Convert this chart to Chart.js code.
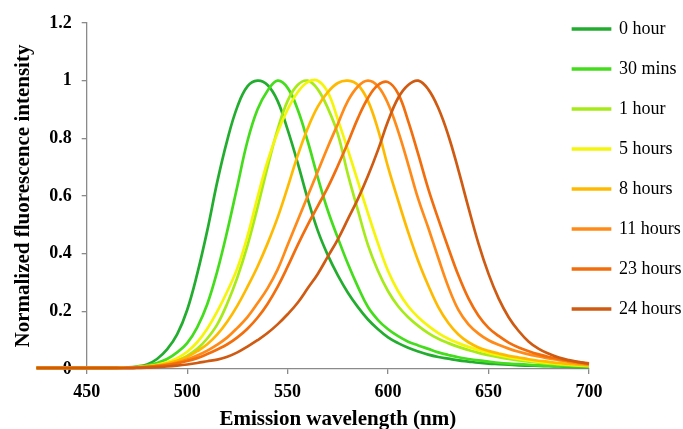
<!DOCTYPE html>
<html>
<head>
<meta charset="utf-8">
<title>Normalized fluorescence spectra</title>
<script src="https://cdn.jsdelivr.net/npm/chart.js@4.4.1/dist/chart.umd.min.js"></script>
<style>
  html, body { margin: 0; padding: 0; background: #fff; }
</style>
</head>
<body>
<canvas id="spectra" width="683" height="429"></canvas>
<script>
// x values (nm) shared by every series
const wavelengths = [425, 430, 435, 440, 445, 450, 455, 460, 465, 470, 475, 480, 485, 490, 495,
  500, 505, 510, 515, 520, 525, 530, 535, 540, 545, 550, 555, 560, 565, 570, 575, 580, 585, 590,
  595, 600, 605, 610, 615, 620, 625, 630, 635, 640, 645, 650, 655, 660, 665, 670, 675, 680, 685,
  690, 695, 700];
const xTicks = [450, 500, 550, 600, 650, 700];
const yTicks = [0, 0.2, 0.4, 0.6, 0.8, 1, 1.2];

const seriesLabels = ['0 hour', '30 mins', '1 hour', '5 hours', '8 hours', '11 hours', '23 hours', '24 hours'];
const seriesColors = ['#22ad2f', '#44dd1c', '#a6ea17', '#f5f50a', '#ffba00', '#ff8a17', '#f26d0c', '#cf5a12'];

// normalized intensity
const hour0 = [0.004, 0.004, 0.004, 0.004, 0.004, 0.004, 0.004, 0.004, 0.005, 0.006, 0.009, 0.016,
  0.035, 0.068, 0.12, 0.205, 0.33, 0.48, 0.65, 0.795, 0.91, 0.98, 1.0, 0.985, 0.93, 0.83, 0.715,
  0.59, 0.48, 0.395, 0.325, 0.265, 0.215, 0.172, 0.138, 0.11, 0.09, 0.074, 0.061, 0.05, 0.042,
  0.036, 0.03, 0.026, 0.022, 0.019, 0.017, 0.015, 0.013, 0.012, 0.011, 0.01, 0.009, 0.008, 0.007, 0.007];
const mins30 = [0.004, 0.004, 0.004, 0.004, 0.004, 0.004, 0.004, 0.004, 0.005, 0.005, 0.007, 0.012,
  0.021, 0.035, 0.058, 0.09, 0.145, 0.225, 0.34, 0.48, 0.635, 0.79, 0.9, 0.965, 1.0, 0.975, 0.9,
  0.79, 0.665, 0.55, 0.455, 0.365, 0.285, 0.215, 0.17, 0.138, 0.114, 0.095, 0.082, 0.07, 0.058,
  0.049, 0.041, 0.035, 0.03, 0.026, 0.022, 0.019, 0.017, 0.015, 0.013, 0.012, 0.011, 0.01, 0.009, 0.008];
const hour1 = [0.004, 0.004, 0.004, 0.004, 0.004, 0.004, 0.004, 0.004, 0.004, 0.005, 0.006, 0.009,
  0.013, 0.02, 0.03, 0.046, 0.07, 0.106, 0.155, 0.228, 0.318, 0.428, 0.56, 0.7, 0.83, 0.93, 0.985,
  1.0, 0.97, 0.905, 0.815, 0.675, 0.55, 0.43, 0.34, 0.27, 0.218, 0.18, 0.15, 0.125, 0.105,
  0.09, 0.077, 0.066, 0.056, 0.048, 0.041, 0.035, 0.03, 0.026, 0.022, 0.019, 0.016, 0.014, 0.012, 0.01];
const hours5 = [0.004, 0.004, 0.004, 0.004, 0.004, 0.004, 0.004, 0.004, 0.004, 0.005, 0.007, 0.01,
  0.015, 0.024, 0.038, 0.06, 0.093, 0.14, 0.2, 0.27, 0.35, 0.46, 0.595, 0.72, 0.82, 0.9, 0.96,
  0.995, 1.0, 0.96, 0.865, 0.76, 0.65, 0.54, 0.435, 0.34, 0.27, 0.218, 0.18, 0.15, 0.125,
  0.105, 0.09, 0.077, 0.066, 0.056, 0.048, 0.041, 0.035, 0.03, 0.025, 0.021, 0.018, 0.015, 0.013, 0.011];
const hours8 = [0.004, 0.004, 0.004, 0.004, 0.004, 0.004, 0.004, 0.004, 0.004, 0.005, 0.006, 0.009,
  0.013, 0.02, 0.029, 0.042, 0.062, 0.086, 0.12, 0.165, 0.22, 0.285, 0.355, 0.435, 0.525, 0.63,
  0.74, 0.835, 0.91, 0.96, 0.992, 1.0, 0.985, 0.93, 0.83, 0.7, 0.585, 0.475, 0.375, 0.29, 0.215,
  0.16, 0.12, 0.093, 0.075, 0.063, 0.054, 0.046, 0.04, 0.034, 0.029, 0.025, 0.021, 0.018, 0.015, 0.013];
const hours11 = [0.004, 0.004, 0.004, 0.004, 0.004, 0.004, 0.004, 0.004, 0.004, 0.005, 0.006, 0.008,
  0.011, 0.016, 0.023, 0.033, 0.047, 0.064, 0.085, 0.11, 0.143, 0.18, 0.228, 0.28, 0.345, 0.43,
  0.515, 0.6, 0.685, 0.77, 0.85, 0.93, 0.98, 1.0, 0.98, 0.92, 0.825, 0.71, 0.59, 0.49, 0.385,
  0.285, 0.205, 0.155, 0.123, 0.1, 0.084, 0.071, 0.06, 0.051, 0.044, 0.037, 0.031, 0.025, 0.02, 0.016];
const hours23 = [0.004, 0.004, 0.004, 0.004, 0.004, 0.004, 0.004, 0.004, 0.004, 0.004, 0.005, 0.007,
  0.01, 0.014, 0.02, 0.028, 0.038, 0.052, 0.068, 0.086, 0.11, 0.14, 0.178, 0.226, 0.285, 0.355,
  0.43, 0.5, 0.565, 0.63, 0.705, 0.785, 0.87, 0.94, 0.985, 0.995, 0.955, 0.86, 0.745, 0.625, 0.52,
  0.42, 0.325, 0.245, 0.185, 0.143, 0.115, 0.092, 0.075, 0.062, 0.051, 0.042, 0.035, 0.029, 0.024, 0.02];
const hours24 = [0.003, 0.003, 0.003, 0.003, 0.003, 0.003, 0.003, 0.003, 0.003, 0.003, 0.004, 0.005,
  0.007, 0.009, 0.012, 0.016, 0.021, 0.027, 0.033, 0.043, 0.058, 0.078, 0.1, 0.125, 0.155, 0.19,
  0.23, 0.28, 0.33, 0.39, 0.45, 0.52, 0.59, 0.67, 0.76, 0.86, 0.94, 0.985, 1.0, 0.97, 0.905,
  0.81, 0.69, 0.56, 0.435, 0.33, 0.245, 0.18, 0.132, 0.095, 0.07, 0.053, 0.04, 0.031, 0.024, 0.018];

const series = [hour0, mins30, hour1, hours5, hours8, hours11, hours23, hours24];
const axisGray = '#8a8a8a';

Chart.defaults.font.family = "'Liberation Serif', 'Times New Roman', serif";
Chart.defaults.color = '#000';

// later series sit on top, like the original spreadsheet plot
const datasets = series.map((vals, i) => ({
  label: seriesLabels[i],
  data: wavelengths.map((w, j) => ({ x: w, y: vals[j] })),
  borderColor: seriesColors[i],
  backgroundColor: seriesColors[i],
  borderWidth: 2.7,
  pointRadius: 0,
  tension: 0.4,
  clip: false,
  order: series.length - i
}));

// legend floats over the right edge of the plot
const legendSpot = {
  id: 'legendSpot',
  afterLayout(chart) {
    const lg = chart.legend;
    lg.left = 551;
    lg.right = 683;
    lg.top = -2;
    lg.bottom = 429;
  }
};

new Chart(document.getElementById('spectra'), {
  type: 'line',
  data: { datasets },
  plugins: [legendSpot],
  options: {
    responsive: false,
    animation: false,
    layout: { padding: { left: 0, top: 23, right: 94, bottom: 0 } },
    plugins: {
      tooltip: { enabled: false },
      legend: {
        position: 'chartArea',
        align: 'start',
        labels: {
          boxWidth: 37,
          boxHeight: 1,
          padding: 22,
          color: '#000',
          font: { size: 18 },
          sort: (a, b) => a.datasetIndex - b.datasetIndex
        }
      }
    },
    scales: {
      x: {
        type: 'linear',
        bounds: 'ticks',
        afterDataLimits(scale) { scale.min = xTicks[0]; scale.max = xTicks[xTicks.length - 1]; },
        afterBuildTicks(scale) { scale.ticks = xTicks.map(v => ({ value: v })); },
        ticks: { stepSize: 50, padding: 7, maxRotation: 0, font: { size: 18, weight: 'bold' } },
        grid: { drawOnChartArea: false, drawTicks: true, tickLength: 5, color: axisGray, lineWidth: 1.3 },
        border: { color: axisGray, width: 1.3 },
        title: {
          display: true,
          text: 'Emission wavelength (nm)',
          font: { size: 21, weight: 'bold', lineHeight: 0.92 },
          padding: { top: 0, bottom: 0 }
        }
      },
      y: {
        min: 0,
        max: 1.2,
        afterBuildTicks(scale) { scale.ticks = yTicks.map(v => ({ value: v })); },
        ticks: {
          padding: 10,
          font: { size: 18, weight: 'bold' },
          callback: v => String(Math.round(v * 10) / 10)
        },
        grid: { drawOnChartArea: false, drawTicks: true, tickLength: 5, color: axisGray, lineWidth: 1.3 },
        border: { color: axisGray, width: 1.3 },
        title: {
          display: true,
          text: 'Normalized fluorescence intensity',
          font: { size: 21, weight: 'bold' },
          padding: { top: 11, bottom: 3 }
        }
      }
    }
  }
});
</script>
</body>
</html>
